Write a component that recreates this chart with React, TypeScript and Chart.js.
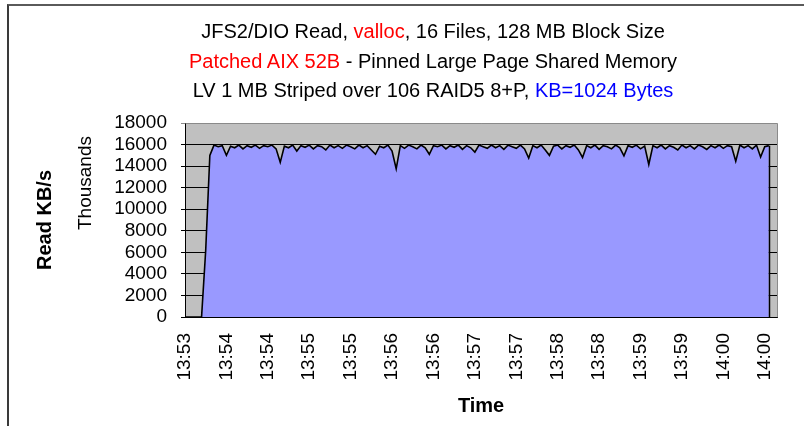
import React, { useEffect, useRef } from 'react';
import { Chart, registerables } from 'chart.js';

Chart.register(...registerables);

// ---- data (Read KB/s, in thousands) ----
const tickLabels = ['13:53', '13:54', '13:54', '13:55', '13:55', '13:56', '13:56', '13:57', '13:57', '13:58', '13:58', '13:59', '13:59', '14:00', '14:00'];

const readKBs: (number | null)[] = [
  0, 0, 0, 0, 0, 6200, 15000, 15950, 15800, 15900,
  15000, 15850, 15700, 15950, 15600, 15900, 15750, 15950, 15650, 15900,
  15800, 15950, 15600, 14350, 15850, 15700, 15950, 15400, 15900, 15750,
  15950, 15600, 15900, 15800, 15500, 15950, 15700, 15900, 15650, 15950,
  15800, 15600, 15950, 15700, 15900, 15500, 15100, 15850, 15700, 15950,
  15400, 13750, 15900, 15650, 15950, 15800, 15600, 15950, 15700, 15100,
  15900, 15800, 15950, 15600, 15900, 15750, 15950, 15550, 15900, 15700,
  15300, 15950, 15800, 15650, 15950, 15700, 15900, 15550, 15950, 15800,
  15650, 15950, 15600, 14750, 15900, 15700, 15950, 15500, 15000, 15850,
  15950, 15600, 15900, 15750, 15950, 15500, 14800, 15900, 15700, 15950,
  15550, 15900, 15800, 15600, 15950, 15700, 14950, 15900, 15750, 15950,
  15600, 15850, 14150, 15900, 15700, 15950, 15600, 15900, 15750, 15500,
  15950, 15700, 15900, 15600, 15950, 15800, 15550, 15900, 15700, 15950,
  15650, 15900, 15800, 14450, 15950, 15700, 15900, 15600, 15950, 14850,
  15800, 15900, null, null,
];

const samplesPerLabel = 10;
const yMin = 0;
const yMax = 18000;
const yStep = 2000;

const titleLines = [
  [
    { text: 'JFS2/DIO Read, ', color: '#000000' },
    { text: 'valloc', color: '#ff0000' },
    { text: ', 16 Files, 128 MB Block Size', color: '#000000' },
  ],
  [
    { text: 'Patched AIX 52B', color: '#ff0000' },
    { text: ' - Pinned Large Page Shared Memory', color: '#000000' },
  ],
  [
    { text: 'LV 1 MB Striped over 106 RAID5 8+P, ', color: '#000000' },
    { text: 'KB=1024 Bytes', color: '#0000ff' },
  ],
];

const yTitle = 'Read KB/s';
const unitLabel = 'Thousands';
const xTitle = 'Time';

const categories = readKBs.map((_, i) =>
  i % samplesPerLabel === 0 ? tickLabels[i / samplesPerLabel] ?? '' : ''
);

const FONT = '"Liberation Sans", Arial, sans-serif';

const decor = {
  id: 'decor',
  beforeDraw(chart: any) {
    const { ctx, chartArea } = chart;
    const { left, top, right, bottom } = chartArea;
    ctx.save();
    ctx.fillStyle = '#c0c0c0';
    ctx.fillRect(left, top, right - left, bottom - top);
    ctx.restore();
  },
  afterDatasetsDraw(chart: any) {
    const { ctx, chartArea } = chart;
    const { left, top, right, bottom } = chartArea;
    const meta = chart.getDatasetMeta(0);
    let last = -1;
    readKBs.forEach((v, i) => {
      if (v !== null) last = i;
    });
    const y0 = chart.scales.y.getPixelForValue(0);
    ctx.save();
    ctx.lineWidth = 1;
    if (last >= 0) {
      const pt = meta.data[last];
      const x = Math.round(pt.x) + 0.5;
      ctx.strokeStyle = '#000000';
      ctx.lineWidth = 1.5;
      ctx.beginPath();
      ctx.moveTo(x, pt.y);
      ctx.lineTo(x, y0);
      ctx.stroke();
      ctx.lineWidth = 1;
    }
    // plot border (top / right)
    ctx.strokeStyle = '#8a8a8a';
    ctx.beginPath();
    ctx.moveTo(Math.round(left) + 0.5, Math.round(top) + 0.5);
    ctx.lineTo(Math.round(right) + 0.5, Math.round(top) + 0.5);
    ctx.lineTo(Math.round(right) + 0.5, Math.round(bottom) + 0.5);
    ctx.stroke();
    // category axis line
    ctx.strokeStyle = '#000000';
    ctx.beginPath();
    ctx.moveTo(left, Math.round(bottom) + 0.5);
    ctx.lineTo(Math.round(right) + 0.5, Math.round(bottom) + 0.5);
    ctx.stroke();
    // display-unit label
    ctx.translate(left - 99, top + 60);
    ctx.rotate(-Math.PI / 2);
    ctx.fillStyle = '#000000';
    ctx.font = `19px ${FONT}`;
    ctx.textAlign = 'center';
    ctx.textBaseline = 'middle';
    ctx.fillText(unitLabel, 0, 0);
    ctx.restore();
  },
};

export default function App() {
  const ref = useRef<HTMLCanvasElement | null>(null);

  useEffect(() => {
    if (!ref.current) return;
    const chart = new Chart(ref.current, {
      type: 'line',
      data: {
        labels: categories,
        datasets: [
          {
            data: readKBs,
            fill: 'origin',
            backgroundColor: '#9999ff',
            borderColor: '#000000',
            borderWidth: 1.6,
            pointRadius: 0,
            tension: 0,
            spanGaps: false,
          },
        ],
      },
      options: {
        responsive: false,
        animation: false,
        events: [],
        layout: { padding: { left: 0, top: 123, right: 22, bottom: 0 } },
        plugins: {
          legend: { display: false },
          tooltip: { enabled: false },
          title: { display: false },
        },
        scales: {
          x: {
            type: 'category',
            offset: false,
            grid: { display: false, drawTicks: false },
            border: { display: true, color: '#000000' },
            ticks: {
              autoSkip: false,
              minRotation: 90,
              maxRotation: 90,
              padding: 16,
              color: '#000000',
              font: { family: FONT, size: 19 },
              callback: (_v: any, i: number) => (categories[i] ? categories[i] : null),
            },
            title: {
              display: true,
              text: xTitle,
              color: '#000000',
              font: { family: FONT, size: 20, weight: 'bold' },
              padding: { top: 0, bottom: 8 },
            },
            afterFit: (scale: any) => {
              scale.height = 109;
            },
          },
          y: {
            min: yMin,
            max: yMax,
            grid: {
              color: (c: any) => (c.tick && c.tick.value === yMax ? '#8a8a8a' : '#000000'),
              lineWidth: 1,
              tickLength: 4,
              drawTicks: true,
            },
            border: { display: true, color: '#000000' },
            ticks: {
              stepSize: yStep,
              autoSkip: false,
              padding: 14,
              color: '#000000',
              font: { family: FONT, size: 19 },
              callback: (v: any) => String(v),
            },
            title: {
              display: true,
              text: yTitle,
              color: '#000000',
              font: { family: FONT, size: 20, weight: 'bold' },
              padding: { top: 33, bottom: 0 },
            },
            afterFit: (scale: any) => {
              scale.width = 185;
            },
          },
        },
      },
      plugins: [decor],
    });
    return () => chart.destroy();
  }, []);

  return (
    <div
      style={{
        position: 'fixed',
        left: 0,
        top: 0,
        width: 804,
        height: 426,
        overflow: 'hidden',
        background: '#ffffff',
      }}
    >
      <div
        style={{
          position: 'absolute',
          left: 7,
          top: 4,
          width: 900,
          height: 600,
          borderLeft: '2px solid #3a3a3a',
          borderTop: '2px solid #5a5a5a',
        }}
      />
      <canvas
        ref={ref}
        width={804}
        height={426}
        style={{ position: 'absolute', left: 0, top: 0, width: 804, height: 426 }}
      />
      <div
        style={{
          position: 'absolute',
          left: 0,
          top: 17,
          width: 866,
          textAlign: 'center',
          fontFamily: FONT,
          fontSize: 20,
          lineHeight: '29.5px',
          whiteSpace: 'nowrap',
        }}
      >
        {titleLines.map((line, li) => (
          <div key={li}>
            {line.map((seg, si) => (
              <span key={si} style={{ color: seg.color }}>
                {seg.text}
              </span>
            ))}
          </div>
        ))}
      </div>
    </div>
  );
}
